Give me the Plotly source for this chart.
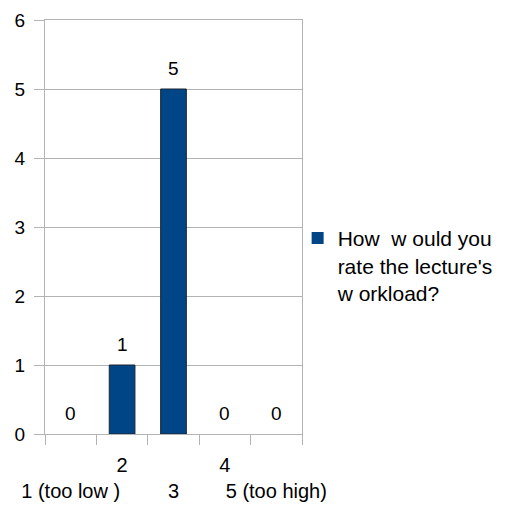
import plotly.graph_objects as go

categories = ["1", "2", "3", "4", "5"]
values = [0, 1, 5, 0, 0]
tick_labels = ["<br>1 (too low )", "2", "<br>3", "4", "<br>5 (too high)"]
series_name = "How  w ould you<br>rate the lecture's<br>w orkload?"
y_ticks = [0, 1, 2, 3, 4, 5, 6]

FONT = "Liberation Sans, Arial, sans-serif"
GRID = "#b3b3b3"

fig = go.Figure()
fig.add_trace(go.Bar(
    x=categories, y=values, name=series_name,
    marker=dict(color="#004586",
                line=dict(color="#1a2633", width=[1 if v > 0 else 0 for v in values])),
    showlegend=True,
))

for i, v in enumerate(values):
    fig.add_annotation(x=i, y=v, text=str(v), showarrow=False,
                       yanchor="bottom", yshift=8,
                       font=dict(family=FONT, size=19, color="#000000"))

# page body has an 8px margin; size the figure so the plot lands like the reference
fig.update_layout(
    width=498, height=506,
    margin=dict(l=37, r=204, t=12, b=80, autoexpand=False),
    paper_bgcolor="white", plot_bgcolor="white",
    bargap=0.5,
    font=dict(family=FONT, size=19, color="#000000"),
    showlegend=True,
    legend=dict(x=0.983, xanchor="left", y=0.522, yanchor="top",
                valign="top", font=dict(family=FONT, size=21, color="#000000"),
                bgcolor="rgba(0,0,0,0)", itemwidth=30),
)
fig.update_xaxes(
    type="category", tickmode="array", tickvals=categories, ticktext=tick_labels,
    tickson="boundaries", ticks="outside", ticklen=10, tickcolor=GRID,
    tickangle=0, ticklabelstandoff=13,
    showline=True, linecolor=GRID, linewidth=1, mirror=True,
    showgrid=False, tickfont=dict(family=FONT, size=20, color="#000000"),
)
fig.update_yaxes(
    range=[0, 6], tickmode="array", tickvals=y_ticks,
    ticks="outside", ticklen=10, tickcolor=GRID,
    showline=True, linecolor=GRID, linewidth=1, mirror=True,
    showgrid=True, gridcolor=GRID, gridwidth=1, zeroline=False,
    ticklabelstandoff=5,
    tickfont=dict(family=FONT, size=19, color="#000000"),
)

fig.write_html("out.html")
